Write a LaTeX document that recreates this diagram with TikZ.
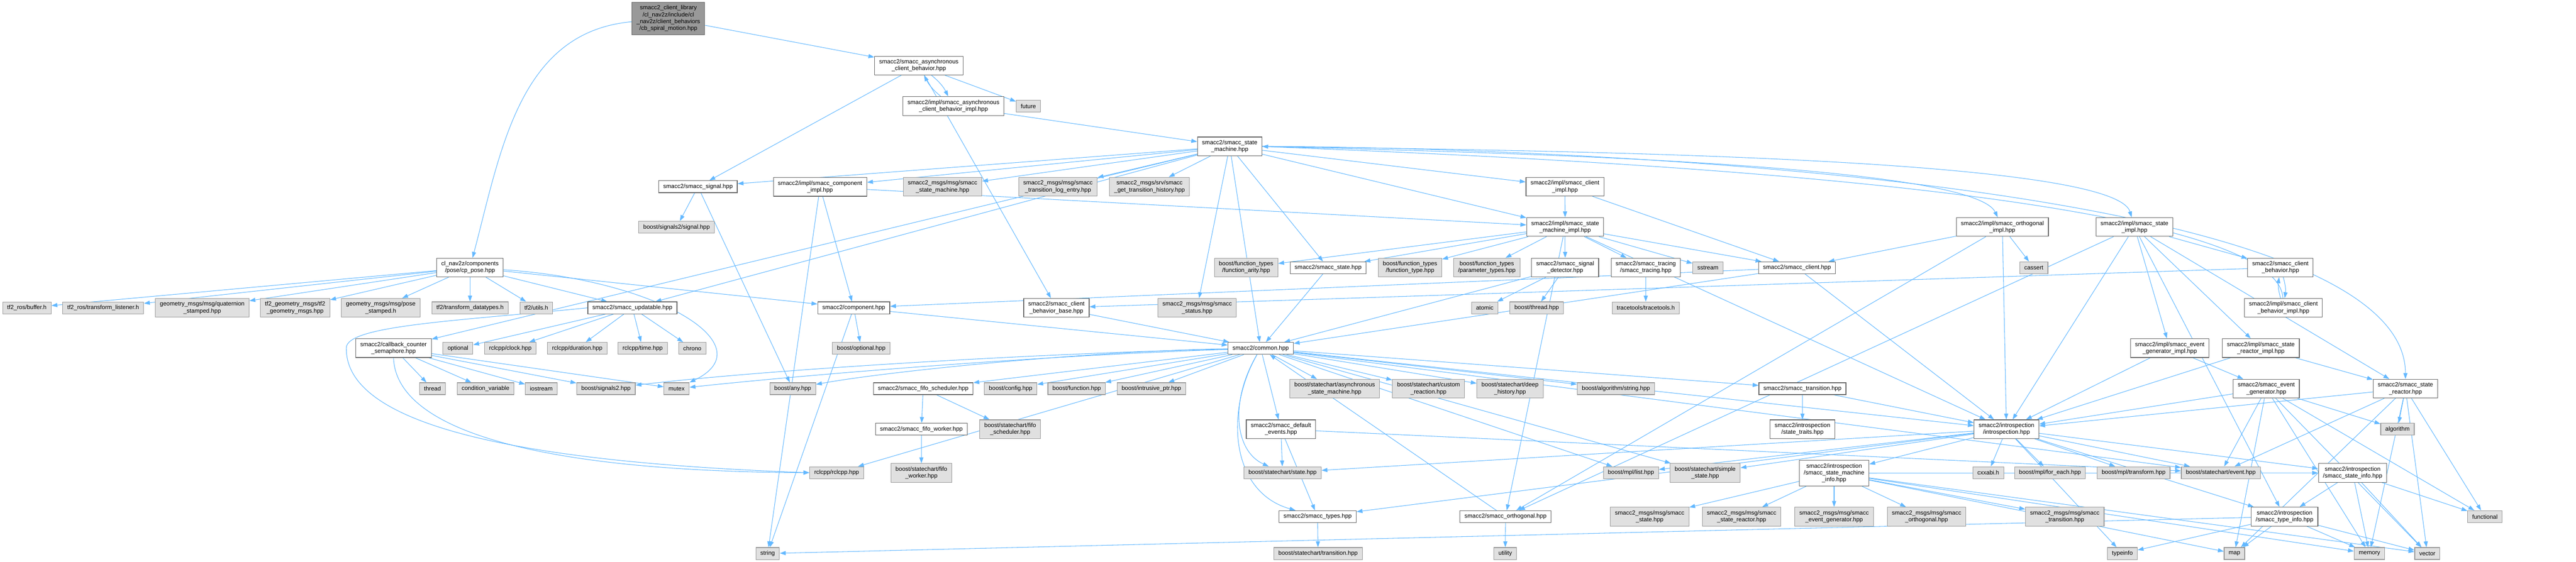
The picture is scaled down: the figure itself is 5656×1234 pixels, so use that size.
\documentclass[tikz,border=0pt]{standalone}
\usepackage{fontspec}
\setmainfont{Liberation Sans}
\usetikzlibrary{arrows.meta}
\definecolor{edgeblue}{HTML}{63B8FF}
\definecolor{boxline}{HTML}{666666}
\definecolor{extline}{HTML}{999999}
\definecolor{extfill}{HTML}{E0E0E0}
\definecolor{rootfill}{HTML}{999999}
\pgfdeclarelayer{bg}
\pgfsetlayers{bg,main}
\begin{document}
\begin{tikzpicture}[x=1pt, y=1pt, >={Triangle[length=13pt,width=9pt]},
    inc/.style={draw=boxline, fill=white, line width=1.3pt, align=center, inner xsep=10pt, inner ysep=7pt, minimum height=26pt, font=\fontsize{13}{15}\selectfont},
    sys/.style={inc, draw=extline, fill=extfill},
    mainfile/.style={inc, fill=rootfill},
    dep/.style={->, draw=edgeblue, line width=1.2pt}]
    \useasboundingbox (0,0) rectangle (5656,-1234);
    \node[mainfile] (main) at (1467.5,-40.5) {smacc2\_client\_library\\/cl\_nav2z/include/cl\\\_nav2z/client\_behaviors\\/cb\_spiral\_motion.hpp};
    \node[inc] (asyncb) at (2017.5,-144) {smacc2/smacc\_asynchronous\\\_client\_behavior.hpp};
    \node[inc] (asyncbimpl) at (2093.5,-233) {smacc2/impl/smacc\_asynchronous\\\_client\_behavior\_impl.hpp};
    \node[sys] (future) at (2258,-233) {future};
    \node[inc] (sm) at (2700,-321.5) {smacc2/smacc\_state\\\_machine.hpp};
    \node[inc] (signal) at (1532.5,-410) {smacc2/smacc\_signal.hpp};
    \node[inc] (compimpl) at (1800.5,-410.5) {smacc2/impl/smacc\_component\\\_impl.hpp};
    \node[sys] (msgsm) at (2069.5,-410) {smacc2\_msgs/msg/smacc\\\_state\_machine.hpp};
    \node[sys] (msgtle) at (2323,-410) {smacc2\_msgs/msg/smacc\\\_transition\_log\_entry.hpp};
    \node[sys] (srvgth) at (2524,-410) {smacc2\_msgs/srv/smacc\\\_get\_transition\_history.hpp};
    \node[inc] (clientimpl) at (3436,-410) {smacc2/impl/smacc\_client\\\_impl.hpp};
    \node[inc] (smimpl) at (3436.5,-498.5) {smacc2/impl/smacc\_state\\\_machine\_impl.hpp};
    \node[inc] (orthimpl) at (4396.5,-498.5) {smacc2/impl/smacc\_orthogonal\\\_impl.hpp};
    \node[inc] (stateimpl) at (4686.5,-498.5) {smacc2/impl/smacc\_state\\\_impl.hpp};
    \node[sys] (sigsignal) at (1485.5,-499) {boost/signals2/signal.hpp};
    \node[inc] (cppose) at (1032,-587.5) {cl\_nav2z/components\\/pose/cp\_pose.hpp};
    \node[sys] (fnarity) at (2736,-587.5) {boost/function\_types\\/function\_arity.hpp};
    \node[inc] (state) at (2916,-588) {smacc2/smacc\_state.hpp};
    \node[sys] (fntype) at (3096,-587.5) {boost/function\_types\\/function\_type.hpp};
    \node[sys] (paramtypes) at (3264.5,-587.5) {boost/function\_types\\/parameter\_types.hpp};
    \node[inc] (sigdet) at (3436.5,-587.5) {smacc2/smacc\_signal\\\_detector.hpp};
    \node[inc] (tracing) at (3613.5,-587.5) {smacc2/smacc\_tracing\\/smacc\_tracing.hpp};
    \node[sys] (sstream) at (3750,-588) {sstream};
    \node[inc] (client) at (3945.5,-588) {smacc2/smacc\_client.hpp};
    \node[sys] (cassert) at (4465.5,-588) {cassert};
    \node[inc] (cbeh) at (5007,-587.5) {smacc2/smacc\_client\\\_behavior.hpp};
    \node[sys] (tf2buffer) at (59,-676) {tf2\_ros/buffer.h};
    \node[sys] (tf2listener) at (226.5,-676) {tf2\_ros/transform\_listener.h};
    \node[sys] (quatst) at (444,-676) {geometry\_msgs/msg/quaternion\\\_stamped.hpp};
    \node[sys] (tf2geom) at (648,-676) {tf2\_geometry\_msgs/tf2\\\_geometry\_msgs.hpp};
    \node[sys] (posest) at (836,-676) {geometry\_msgs/msg/pose\\\_stamped.h};
    \node[sys] (tf2datatypes) at (1032,-676) {tf2/transform\_datatypes.h};
    \node[sys] (tf2utils) at (1177.5,-676) {tf2/utils.h};
    \node[inc] (updatable) at (1388.5,-676) {smacc2/smacc\_updatable.hpp};
    \node[inc] (component) at (1874.5,-676) {smacc2/component.hpp};
    \node[inc] (cbbase) at (2319.5,-676) {smacc2/smacc\_client\\\_behavior\_base.hpp};
    \node[sys] (msgstatus) at (2628.5,-676) {smacc2\_msgs/msg/smacc\\\_status.hpp};
    \node[sys] (atomic) at (3260,-676) {atomic};
    \node[sys] (boostthread) at (3374,-676) {boost/thread.hpp};
    \node[sys] (tracetools) at (3613.5,-676) {tracetools/tracetools.h};
    \node[inc] (cbimpl) at (5013.5,-676) {smacc2/impl/smacc\_client\\\_behavior\_impl.hpp};
    \node[inc] (semaphore) at (864,-764.5) {smacc2/callback\_counter\\\_semaphore.hpp};
    \node[sys] (optional) at (1005.5,-765) {optional};
    \node[sys] (clock) at (1120.5,-765) {rclcpp/clock.hpp};
    \node[sys] (duration) at (1267.5,-765) {rclcpp/duration.hpp};
    \node[sys] (rcltime) at (1411,-765) {rclcpp/time.hpp};
    \node[sys] (chrono) at (1520,-765) {chrono};
    \node[sys] (boostoptional) at (1891,-765) {boost/optional.hpp};
    \node[inc] (common) at (2768,-765) {smacc2/common.hpp};
    \node[inc] (evgenimpl) at (4764,-764.5) {smacc2/impl/smacc\_event\\\_generator\_impl.hpp};
    \node[inc] (srimpl) at (4964,-764.5) {smacc2/impl/smacc\_state\\\_reactor\_impl.hpp};
    \node[sys] (thread) at (949.5,-853.5) {thread};
    \node[sys] (condvar) at (1066,-853.5) {condition\_variable};
    \node[sys] (iostream) at (1188.5,-853.5) {iostream};
    \node[sys] (signals2) at (1330.5,-853.5) {boost/signals2.hpp};
    \node[sys] (mutex) at (1485.5,-853.5) {mutex};
    \node[sys] (boostany) at (1740.5,-853.5) {boost/any.hpp};
    \node[inc] (fifosched) at (2027,-853.5) {smacc2/smacc\_fifo\_scheduler.hpp};
    \node[sys] (bconfig) at (2219,-853.5) {boost/config.hpp};
    \node[sys] (bfunction) at (2364,-853.5) {boost/function.hpp};
    \node[sys] (intrusive) at (2528,-853.5) {boost/intrusive\_ptr.hpp};
    \node[sys] (asyncsm) at (2930.5,-853.5) {boost/statechart/asynchronous\\\_state\_machine.hpp};
    \node[sys] (customreaction) at (3136.5,-853.5) {boost/statechart/custom\\\_reaction.hpp};
    \node[sys] (deephist) at (3315.5,-853.5) {boost/statechart/deep\\\_history.hpp};
    \node[sys] (algostring) at (3548,-853.5) {boost/algorithm/string.hpp};
    \node[inc] (transition) at (3957.5,-853.5) {smacc2/smacc\_transition.hpp};
    \node[inc] (evgen) at (4976,-853.5) {smacc2/smacc\_event\\\_generator.hpp};
    \node[inc] (stater) at (5281.5,-853.5) {smacc2/smacc\_state\\\_reactor.hpp};
    \node[inc] (fifoworker) at (2023,-942.5) {smacc2/smacc\_fifo\_worker.hpp};
    \node[sys] (fifoschedb) at (2218,-942.5) {boost/statechart/fifo\\\_scheduler.hpp};
    \node[inc] (defevents) at (2812.5,-942.5) {smacc2/smacc\_default\\\_events.hpp};
    \node[inc] (statetraits) at (3957.5,-942.5) {smacc2/introspection\\/state\_traits.hpp};
    \node[inc] (introspection) at (4405.5,-942.5) {smacc2/introspection\\/introspection.hpp};
    \node[sys] (algorithm) at (5264,-942.5) {algorithm};
    \node[sys] (rclcpp) at (1837,-1038) {rclcpp/rclcpp.hpp};
    \node[sys] (fifoworkerb) at (2023,-1038.5) {boost/statechart/fifo\\\_worker.hpp};
    \node[sys] (bstate) at (2816,-1038) {boost/statechart/state.hpp};
    \node[sys] (mpllist) at (3581,-1038) {boost/mpl/list.hpp};
    \node[sys] (simplestate) at (3744,-1038.5) {boost/statechart/simple\\\_state.hpp};
    \node[inc] (sminfo) at (4027,-1039) {smacc2/introspection\\/smacc\_state\_machine\\\_info.hpp};
    \node[sys] (cxxabi) at (4365.5,-1038) {cxxabi.h};
    \node[sys] (foreach) at (4501,-1038) {boost/mpl/for\_each.hpp};
    \node[sys] (mpltransform) at (4684.5,-1038) {boost/mpl/transform.hpp};
    \node[sys] (bevent) at (4876,-1038) {boost/statechart/event.hpp};
    \node[inc] (stateinfo) at (5165.5,-1038.5) {smacc2/introspection\\/smacc\_state\_info.hpp};
    \node[inc] (types) at (2893,-1134.5) {smacc2/smacc\_types.hpp};
    \node[inc] (orthogonal) at (3305.5,-1134.5) {smacc2/smacc\_orthogonal.hpp};
    \node[sys] (msgstate) at (3622,-1134.5) {smacc2\_msgs/msg/smacc\\\_state.hpp};
    \node[sys] (msgsr) at (3824,-1134.5) {smacc2\_msgs/msg/smacc\\\_state\_reactor.hpp};
    \node[sys] (msgeg) at (4027,-1134.5) {smacc2\_msgs/msg/smacc\\\_event\_generator.hpp};
    \node[sys] (msgorth) at (4230,-1134.5) {smacc2\_msgs/msg/smacc\\\_orthogonal.hpp};
    \node[sys] (msgtrans) at (4533.5,-1134.5) {smacc2\_msgs/msg/smacc\\\_transition.hpp};
    \node[inc] (typeinfo) at (5016,-1134.5) {smacc2/introspection\\/smacc\_type\_info.hpp};
    \node[sys] (functional) at (5456,-1134.5) {functional};
    \node[sys] (string) at (1685.5,-1215.5) {string};
    \node[sys] (transitionb) at (2894,-1215.5) {boost/statechart/transition.hpp};
    \node[sys] (utility) at (3305,-1215.5) {utility};
    \node[sys] (typeinfoh) at (4660,-1215.5) {typeinfo};
    \node[sys] (map) at (4906,-1215.5) {map};
    \node[sys] (memory) at (5202.5,-1215.5) {memory};
    \node[sys] (vector) at (5329.5,-1215.5) {vector};
    \begin{pgfonlayer}{bg}
    \draw[dep] (main) .. controls (1140,-70) and (1100,-330) .. (cppose);
    \draw[dep] (main) -- (asyncb);
    \draw[dep] (cppose) -- (tf2buffer);
    \draw[dep] (cppose) -- (tf2listener);
    \draw[dep] (cppose) -- (quatst);
    \draw[dep] (cppose) -- (tf2geom);
    \draw[dep] (cppose) -- (posest);
    \draw[dep] (cppose) -- (tf2datatypes);
    \draw[dep] (cppose) -- (tf2utils);
    \draw[dep] (cppose) -- (updatable);
    \draw[dep] (cppose) -- (component);
    \draw[dep] (cppose) .. controls (1450,-615) and (1680,-760) .. (mutex);
    \draw[dep] (asyncb) to[bend left=12] (asyncbimpl);
    \draw[dep] (asyncbimpl) to[bend left=12] (asyncb);
    \draw[dep] (asyncb) -- (future);
    \draw[dep] (asyncb) -- (signal);
    \draw[dep] (asyncb) -- (cbbase);
    \draw[dep] (asyncbimpl) -- (sm);
    \draw[dep] (sm) -- (signal);
    \draw[dep] (sm) -- (compimpl);
    \draw[dep] (sm) -- (msgsm);
    \draw[dep] (sm) -- (msgtle);
    \draw[dep] (sm) -- (srvgth);
    \draw[dep] (sm) -- (msgstatus);
    \draw[dep] (sm) -- (common);
    \draw[dep] (sm) -- (updatable);
    \draw[dep] (sm) -- (semaphore);
    \draw[dep] (sm) -- (state);
    \draw[dep] (sm) -- (clientimpl);
    \draw[dep] (sm) -- (smimpl);
    \draw[dep] (sm.east) .. controls (3300,-335) and (4330,-360) .. (orthimpl);
    \draw[dep] (sm.east) .. controls (3300,-330) and (4640,-340) .. (stateimpl);
    \draw[dep] (sm.east) .. controls (3233,-322) and (5281,-373) .. (stater);
    \draw[dep] (cbimpl) .. controls (5000,-400) and (3200,-340) .. (sm.east);
    \draw[dep] (clientimpl) -- (smimpl);
    \draw[dep] (clientimpl) -- (client);
    \draw[dep] (compimpl) -- (component);
    \draw[dep] (compimpl) -- (string);
    \draw[dep] (compimpl) -- (smimpl);
    \draw[dep] (signal) -- (sigsignal);
    \draw[dep] (signal) -- (boostany);
    \draw[dep] (smimpl) -- (fnarity);
    \draw[dep] (smimpl) -- (state);
    \draw[dep] (smimpl) -- (fntype);
    \draw[dep] (smimpl) -- (paramtypes);
    \draw[dep] (smimpl) -- (sigdet);
    \draw[dep] (smimpl) -- (tracing);
    \draw[dep] (smimpl) -- (sstream);
    \draw[dep] (smimpl) -- (client);
    \draw[dep] (smimpl) -- (orthogonal);
    \draw[dep] (smimpl) -- (introspection);
    \draw[dep] (sigdet) -- (atomic);
    \draw[dep] (sigdet) -- (boostthread);
    \draw[dep] (sigdet) -- (common);
    \draw[dep] (tracing) -- (tracetools);
    \draw[dep] (orthimpl) -- (client);
    \draw[dep] (orthimpl) -- (cassert);
    \draw[dep] (orthimpl) -- (orthogonal);
    \draw[dep] (orthimpl) -- (introspection);
    \draw[dep] (stateimpl) -- (cbeh);
    \draw[dep] (stateimpl) -- (evgenimpl);
    \draw[dep] (stateimpl) -- (srimpl);
    \draw[dep] (stateimpl) -- (stater);
    \draw[dep] (stateimpl) -- (introspection);
    \draw[dep] (stateimpl) -- (orthogonal);
    \draw[dep] (stateimpl) -- (typeinfo);
    \draw[dep] (cbeh) to[bend left=12] (cbimpl);
    \draw[dep] (cbimpl) to[bend left=12] (cbeh);
    \draw[dep] (cbeh) -- (cbbase);
    \draw[dep] (evgenimpl) -- (evgen);
    \draw[dep] (evgenimpl) -- (introspection);
    \draw[dep] (srimpl) -- (stater);
    \draw[dep] (srimpl) -- (introspection);
    \draw[dep] (state) -- (common);
    \draw[dep] (client) -- (common);
    \draw[dep] (client) -- (component);
    \draw[dep] (client) -- (introspection);
    \draw[dep] (cbbase) -- (common);
    \draw[dep] (component) -- (boostoptional);
    \draw[dep] (component) -- (string);
    \draw[dep] (component) -- (common);
    \draw[dep] (updatable) -- (optional);
    \draw[dep] (updatable) -- (clock);
    \draw[dep] (updatable) -- (duration);
    \draw[dep] (updatable) -- (rcltime);
    \draw[dep] (updatable) -- (chrono);
    \draw[dep] (updatable.west) .. controls (1000,-705) and (759,-715) .. ([xshift=-20pt]semaphore.west) .. controls (759,-900) and (1000,-1010) .. (rclcpp.west);
    \draw[dep] (semaphore) -- (thread);
    \draw[dep] (semaphore) -- (condvar);
    \draw[dep] (semaphore) -- (iostream);
    \draw[dep] (semaphore) -- (signals2);
    \draw[dep] (semaphore) -- (mutex);
    \draw[dep] (semaphore.south) .. controls (870,-950) and (1200,-1035) .. (rclcpp.west);
    \draw[dep] (common) -- (fifosched);
    \draw[dep] (common) -- (bconfig);
    \draw[dep] (common) -- (bfunction);
    \draw[dep] (common) -- (intrusive);
    \draw[dep] (common) -- (asyncsm);
    \draw[dep] (common) -- (customreaction);
    \draw[dep] (common) -- (deephist);
    \draw[dep] (common) -- (algostring);
    \draw[dep] (common) -- (defevents);
    \draw[dep] (common) .. controls (2690,-900) and (2700,-1080) .. (types);
    \draw[dep] (common) .. controls (2700,-880) and (2710,-990) .. (bstate);
    \draw[dep] (common) -- (simplestate);
    \draw[dep] (common) -- (mpllist);
    \draw[dep] (common) -- (bevent);
    \draw[dep] (common) .. controls (2400,-770) and (1950,-815) .. (boostany);
    \draw[dep] (common) .. controls (2300,-775) and (1700,-810) .. (signals2);
    \draw[dep] (common) .. controls (2300,-780) and (1800,-820) .. (mutex);
    \draw[dep] (common) -- (rclcpp);
    \draw[dep] (common) -- (transition);
    \draw[dep] (common) -- (introspection);
    \draw[dep] (fifosched) -- (fifoworker);
    \draw[dep] (fifosched) -- (fifoschedb);
    \draw[dep] (fifoworker) -- (fifoworkerb);
    \draw[dep] (defevents) -- (bstate);
    \draw[dep] (defevents) -- (types);
    \draw[dep] (defevents) -- (bevent);
    \draw[dep] (types) -- (transitionb);
    \draw[dep] (orthogonal) -- (utility);
    \draw[dep] (orthogonal) -- (common);
    \draw[dep] (transition) -- (statetraits);
    \draw[dep] (transition) -- (introspection);
    \draw[dep] (introspection) -- (cxxabi);
    \draw[dep] (introspection) -- (foreach);
    \draw[dep] (introspection) -- (mpltransform);
    \draw[dep] (introspection) -- (sminfo);
    \draw[dep] (introspection) -- (simplestate);
    \draw[dep] (introspection) -- (bevent);
    \draw[dep] (introspection) -- (typeinfoh);
    \draw[dep] (introspection) -- (stateinfo);
    \draw[dep] (introspection) -- (typeinfo);
    \draw[dep] (introspection) -- (types);
    \draw[dep] (introspection) -- (bstate);
    \draw[dep] (introspection) -- (mpllist);
    \draw[dep] (sminfo) -- (msgstate);
    \draw[dep] (sminfo) -- (msgsr);
    \draw[dep] (sminfo) -- (msgeg);
    \draw[dep] (sminfo) -- (msgorth);
    \draw[dep] (sminfo) -- (msgtrans);
    \draw[dep] (sminfo) -- (stateinfo);
    \draw[dep] (sminfo) -- (map);
    \draw[dep] (sminfo) -- (memory);
    \draw[dep] (sminfo) -- (vector);
    \draw[dep] (stateinfo) -- (typeinfo);
    \draw[dep] (stateinfo) -- (memory);
    \draw[dep] (stateinfo) -- (vector);
    \draw[dep] (stateinfo) -- (functional);
    \draw[dep] (typeinfo) -- (typeinfoh);
    \draw[dep] (typeinfo) -- (map);
    \draw[dep] (typeinfo) -- (memory);
    \draw[dep] (typeinfo) -- (vector);
    \draw[dep] (typeinfo) -- (string);
    \draw[dep] (evgen) -- (bevent);
    \draw[dep] (evgen) -- (map);
    \draw[dep] (evgen) -- (memory);
    \draw[dep] (evgen) -- (vector);
    \draw[dep] (evgen) -- (functional);
    \draw[dep] (evgen) -- (algorithm);
    \draw[dep] (evgen) -- (introspection);
    \draw[dep] (stater) -- (algorithm);
    \draw[dep] (stater) -- (bevent);
    \draw[dep] (stater) -- (map);
    \draw[dep] (stater) -- (memory);
    \draw[dep] (stater) -- (vector);
    \draw[dep] (stater) -- (functional);
    \draw[dep] (stater) -- (introspection);
    \end{pgfonlayer}
\end{tikzpicture}
\end{document}
